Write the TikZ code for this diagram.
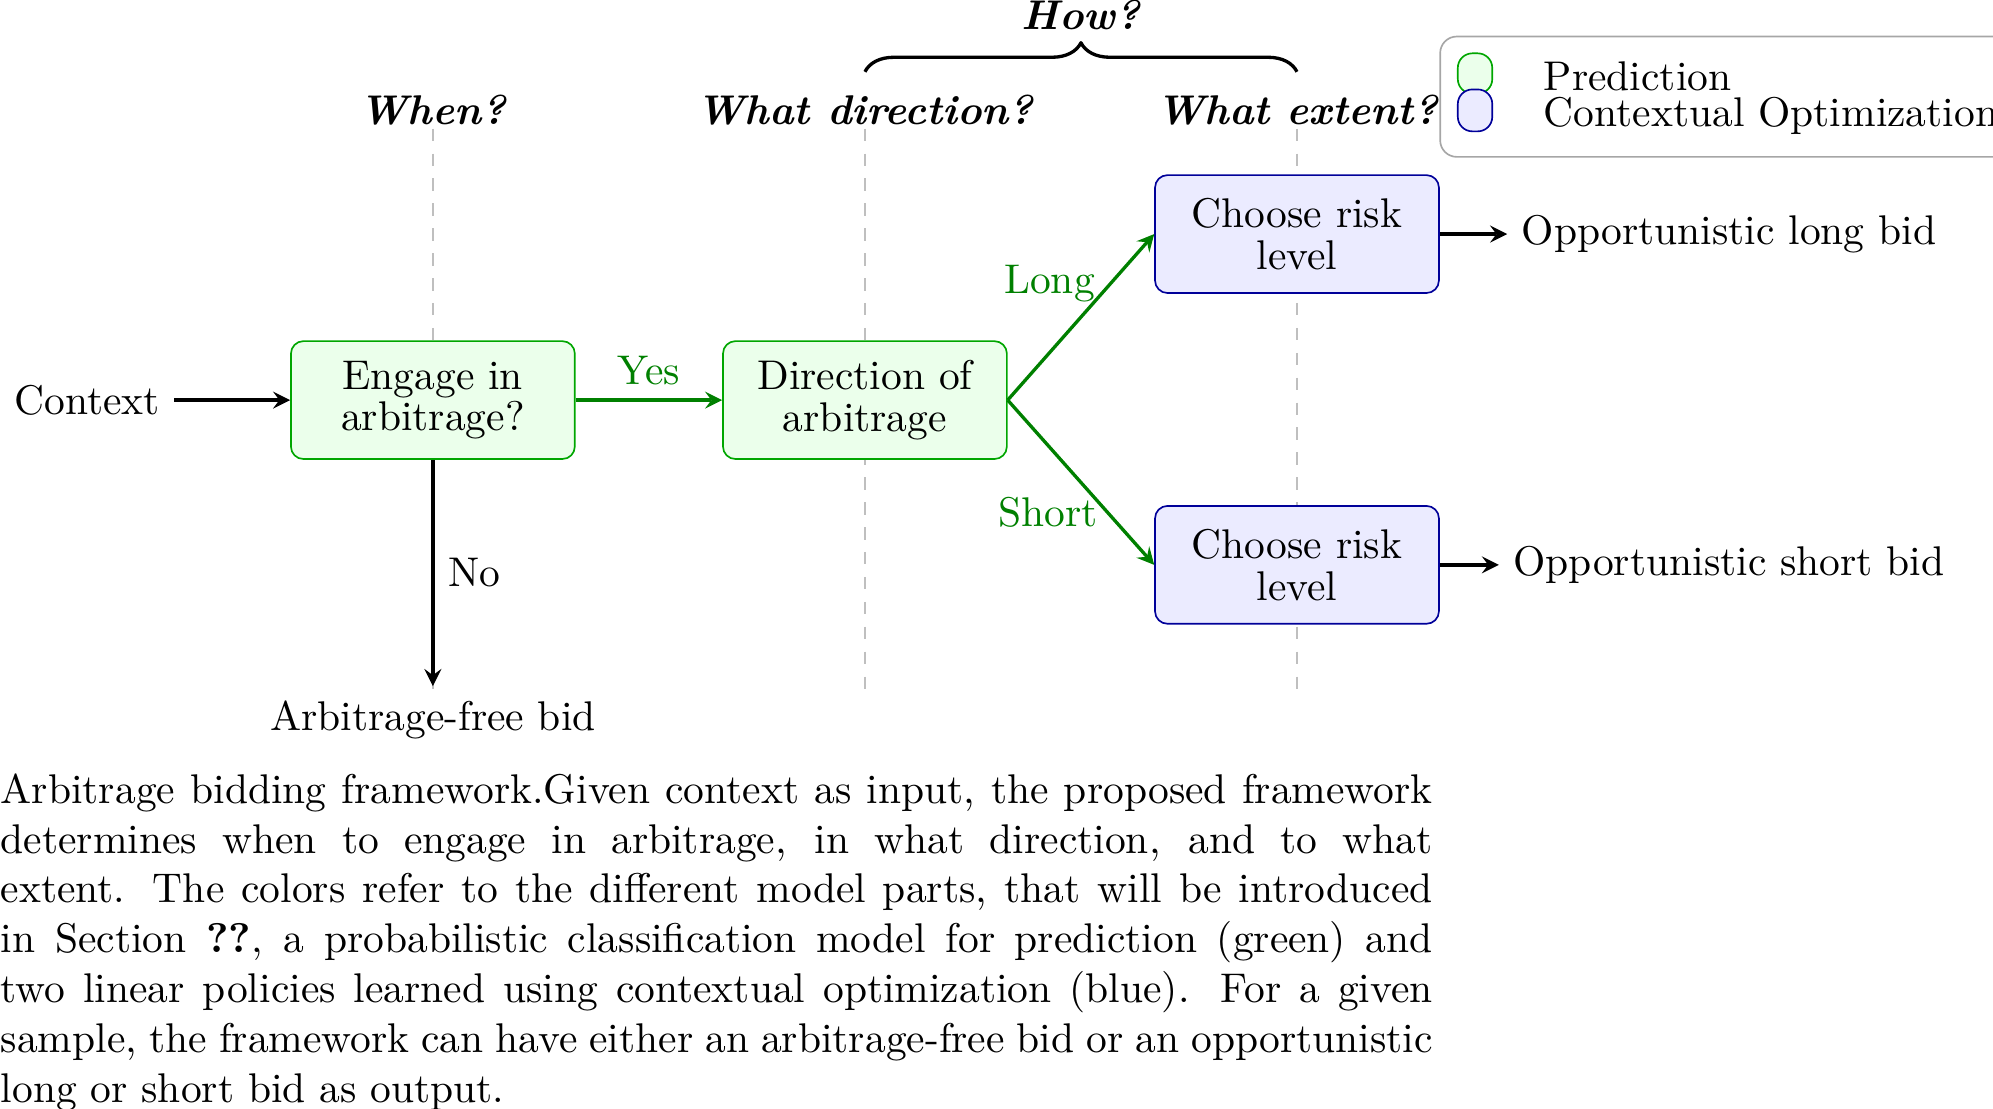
\documentclass[tikz,border=0pt]{standalone}
\usetikzlibrary{decorations.pathreplacing}
\begin{document}
\begin{tikzpicture}[x=1pt, y=1pt, line join=round,
		predbox/.style={draw=green!65!black, fill=green!8, rounded corners=3pt, minimum width=68.4pt, minimum height=28.4pt, align=center},
		optbox/.style={draw=blue!60!black, fill=blue!8, rounded corners=3pt, minimum width=68.4pt, minimum height=28.4pt, align=center},
		flow/.style={thick, -stealth},
		yesflow/.style={thick, -stealth, green!50!black},
		guide/.style={dashed, gray!50},
		question/.style={font=\bfseries\itshape, anchor=base}]
			\useasboundingbox (0,0) rectangle (480.2,-267.2);
			% guide lines
			\draw[guide] (104.3,-31) -- (104.3,-166.3);
			\draw[guide] (208.4,-31) -- (208.4,-166.3);
			\draw[guide] (312.5,-31) -- (312.5,-166.3);
			\node[question] (when) at (104.3,-30.1) {When?};
			\node[question] (direction) at (208.4,-30.1) {What direction?};
			\node[question] (extent) at (312.5,-30.1) {What extent?};
			\draw[thick, decorate, decoration={brace, amplitude=7pt}] (208.4,-17.3) -- (312.5,-17.3);
			\node[question] (how) at (260.45,-7.2) {How?};
			% legend
			\draw[gray!70, rounded corners=4pt] (347,-8.8) rectangle (500,-37.8);
			\node[draw=green!65!black, fill=green!8, rounded corners=3.5pt, minimum width=8.3pt, minimum height=9.7pt, inner sep=0pt] (legpred) at (355.4,-17.7) {};
			\node[draw=blue!60!black, fill=blue!8, rounded corners=3.5pt, minimum width=8.3pt, minimum height=10.1pt, inner sep=0pt] (legopt) at (355.4,-26.6) {};
			\node[anchor=base west, inner sep=0pt] (predtext) at (371.8,-21.9) {Prediction};
			\node[anchor=base west, inner sep=0pt] (opttext) at (371.8,-30.4) {Contextual Optimization};
			% flow
			\node (context) at (21,-96.4) {Context};
			\node[predbox] (engage) at (104.3,-96.4) {Engage in\\[-2pt] arbitrage?};
			\node[predbox] (dir) at (208.4,-96.4) {Direction of\\[-2pt] arbitrage};
			\node[optbox] (risklong) at (312.5,-56.4) {Choose risk\\[-2pt] level};
			\node[optbox] (riskshort) at (312.5,-136.1) {Choose risk\\[-2pt] level};
			\node[anchor=north] (free) at (104.3,-165.3) {Arbitrage-free bid};
			\node (longbid) at (416.6,-56.4) {Opportunistic long bid};
			\node (shortbid) at (416.6,-136.1) {Opportunistic short bid};
			\draw[flow] (context) -- (engage);
			\draw[yesflow] (engage) -- node[above] {Yes} (dir);
			\draw[flow] (engage) -- node[right] {No} (free);
			\draw[yesflow] (dir.east) -- node[pos=0.7, left] {Long} (risklong.west);
			\draw[yesflow] (dir.east) -- node[pos=0.68, left, xshift=1.5pt] {Short} (riskshort.west);
			\draw[flow] (risklong) -- (longbid);
			\draw[flow] (riskshort) -- (shortbid);
			% caption
			\node[anchor=north west, inner sep=0pt, text width=345pt, align=justify] (caption) at (0,-186.2) {Arbitrage bidding framework.Given context as input, the proposed framework\linebreak{} determines when to engage in arbitrage, in what direction, and to what\linebreak{} extent. The colors refer to the different model parts, that will be introduced\linebreak{} in Section \textbf{??}, a probabilistic classification model for prediction (green) and\linebreak{} two linear policies learned using contextual optimization (blue). For a given\linebreak{} sample, the framework can have either an arbitrage-free bid or an opportunistic\linebreak{} long or short bid as output.};
		\end{tikzpicture}
\end{document}
